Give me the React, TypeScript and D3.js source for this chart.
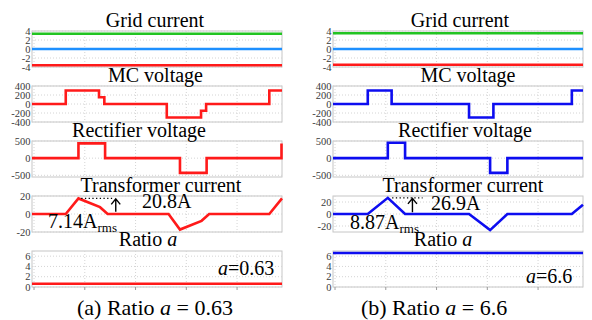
import * as d3 from 'd3';

type Pt = [number, number];

// time axis (arbitrary units, one period = 80)
const tDomain: [number, number] = [-0.8, 97.7];
const tTicks = [0, 20, 40, 60, 80];

const titles = ['Grid current', 'MC voltage', 'Rectifier voltage', 'Transformer current'];

const gridTicks = [4, 2, 0, -2, -4];
const mcTicks = [400, 200, 0, -200, -400];
const rectTicks = [500, 0, -500];
const trTicks = [20, 0, -20];
const ratioTicks = [6, 4, 2, 0];

const gridColors = ['#22c422', '#1e90ff', '#ff1a1a'];

// (a) ratio a = 0.63
const gridA = [3.4, 0, -3.6];
const mcA: Pt[] = [[-0.8, 0], [12.5, 0], [12.5, 300], [25.6, 300], [25.6, 150], [27.7, 150], [27.7, 0],
  [52.3, 0], [52.3, -300], [65.8, -300], [65.8, -150], [67.8, -150], [67.8, 0], [92.7, 0], [92.7, 300], [97.7, 300]];
const rectA: Pt[] = [[-0.8, 0], [17.5, 0], [17.5, 430], [28, 430], [28, 0], [57.5, 0], [57.5, -430],
  [68, -430], [68, 0], [97.5, 0], [97.5, 430]];
const trA: Pt[] = [[-0.8, 0], [12.5, 0], [17.5, 17.3], [26, 7.6], [29, 0], [53, 0], [57.5, -17.3],
  [66, -7.6], [69, 0], [92.7, 0], [97.7, 17.3]];
const ratioA = 0.63;

// (b) ratio a = 6.6
const gridB = [3.5, 0, -3.5];
const mcB: Pt[] = [[-0.8, 0], [12.9, 0], [12.9, 300], [22.3, 300], [22.3, 0], [52.8, 0], [52.8, -300],
  [62.4, -300], [62.4, 0], [93.3, 0], [93.3, 300], [97.7, 300]];
const rectB: Pt[] = [[-0.8, 0], [20.8, 0], [20.8, 450], [27.6, 450], [27.6, 0], [61.1, 0], [61.1, -430],
  [67.9, -430], [67.9, 0], [97.7, 0]];
const trB: Pt[] = [[-0.8, 0], [12.9, 0], [20.8, 26.9], [27.6, 0], [52.8, 0], [61.1, -26.9], [67.9, 0],
  [93.3, 0], [97.7, 15.5]];
const ratioB = 6.6;

const serif = '"Liberation Serif", "Times New Roman", serif';
const rowTop = [31, 86, 141, 196, 251];
const rowH = 36;

interface Side {
  x0: number; x1: number; color: string;
  grid: number[]; mc: Pt[]; rect: Pt[]; tr: Pt[]; trDomain: [number, number]; ratio: number;
  ann: { peakT: number; peakV: number; arrowT: number; baseV: number; dotEndT: number; peak: string; rms: string; ratio: string; caption: string };
  lay: { titleX: number[]; peakX: number; peakY: number; rmsX: number; rmsY: number; ratioX: number; ratioY: number; capX: number };
}

const sides: Side[] = [
  {
    x0: 32, x1: 282, color: '#ff1a1a', grid: gridA, mc: mcA, rect: rectA, tr: trA, trDomain: [-20, 20], ratio: ratioA,
    ann: { peakT: 18.6, peakV: 17.3, arrowT: 32.2, baseV: 2.5, dotEndT: 31.2, peak: '20.8A', rms: '7.14A', ratio: '0.63', caption: '(a) Ratio ' },
    lay: { titleX: [155, 155.5, 139, 161, 148], peakX: 142, peakY: 208, rmsX: 48, rmsY: 228, ratioX: 218, ratioY: 275, capX: 155 },
  },
  {
    x0: 333, x1: 583, color: '#0d0df0', grid: gridB, mc: mcB, rect: rectB, tr: trB, trDomain: [-30, 30], ratio: ratioB,
    ann: { peakT: 22.5, peakV: 26.9, arrowT: 30.5, baseV: 3, dotEndT: 34.5, peak: '26.9A', rms: '8.87A', ratio: '6.6', caption: '(b) Ratio ' },
    lay: { titleX: [460, 468, 465, 463, 443], peakX: 431, peakY: 210, rmsX: 350, rmsY: 229, ratioX: 526, ratioY: 283, capX: 434 },
  },
];

const ratioVal = (s: Side) => (s === sides[0] ? '0.63' : '6.6');

function Frame({ x, y, ticks, x0, x1, top }: { x: d3.ScaleLinear<number, number>; y: d3.ScaleLinear<number, number>; ticks: number[]; x0: number; x1: number; top: number }) {
  return (
    <g>
      <rect x={x0} y={top} width={x1 - x0} height={rowH} fill="#fff" stroke="#c6c6c6" strokeWidth={1} />
      {tTicks.map(t => (
        <line key={'v' + t} x1={x(t)} x2={x(t)} y1={top} y2={top + rowH} stroke="#d4d4d4" strokeDasharray="1,2" />
      ))}
      {ticks.map(v => (
        <line key={'h' + v} x1={x0} x2={x1} y1={y(v)} y2={y(v)} stroke="#d4d4d4" strokeDasharray="1,2" />
      ))}
      {ticks.map(v => (
        <text key={'l' + v} x={x0 - 1.5} y={y(v)} textAnchor="end" dominantBaseline="central"
          fontFamily={serif} fontSize={10.5} fill="#3a3a3a">{v}</text>
      ))}
    </g>
  );
}

function Half({ s }: { s: Side }) {
  const x = d3.scaleLinear().domain(tDomain).range([s.x0, s.x1]);
  const ys = [
    d3.scaleLinear().domain([-4, 4]).range([rowTop[0] + rowH, rowTop[0]]),
    d3.scaleLinear().domain([-400, 400]).range([rowTop[1] + rowH, rowTop[1]]),
    d3.scaleLinear().domain([-550, 500]).range([rowTop[2] + rowH, rowTop[2]]),
    d3.scaleLinear().domain(s.trDomain).range([rowTop[3] + rowH, rowTop[3]]),
    d3.scaleLinear().domain([0, 7]).range([rowTop[4] + rowH, rowTop[4]]),
  ];
  const tickSets = [gridTicks, mcTicks, rectTicks, trTicks, ratioTicks];
  const mk = (y: d3.ScaleLinear<number, number>) => d3.line<Pt>().x(d => x(d[0])).y(d => y(d[1]));
  const sw = 2.6;
  const a = s.ann;
  const ax = x(a.arrowT);
  const ay0 = ys[3](a.baseV);
  const ay1 = ys[3](a.peakV);
  const bottom = rowTop[4] + rowH;

  return (
    <g>
      {tickSets.map((tk, i) => (
        <Frame key={i} x={x} y={ys[i]} ticks={tk} x0={s.x0} x1={s.x1} top={rowTop[i]} />
      ))}
      {tTicks.map(t => (
        <line key={'bt' + t} x1={x(t)} x2={x(t)} y1={bottom} y2={bottom + 3} stroke="#9a9a9a" />
      ))}

      {titles.map((t, i) => (
        <text key={t} x={s.lay.titleX[i]} y={rowTop[i] - 4.5} textAnchor="middle" fontFamily={serif} fontSize={20}>{t}</text>
      ))}
      <text x={s.lay.titleX[4]} y={rowTop[4] - 5.5} textAnchor="middle" fontFamily={serif} fontSize={20}>
        Ratio <tspan fontStyle="italic">a</tspan>
      </text>

      {s.grid.map((v, i) => (
        <line key={'g' + i} x1={s.x0} x2={s.x1} y1={ys[0](v)} y2={ys[0](v)} stroke={gridColors[i]} strokeWidth={sw} />
      ))}
      <path d={mk(ys[1])(s.mc) ?? ''} fill="none" stroke={s.color} strokeWidth={sw} />
      <path d={mk(ys[2])(s.rect) ?? ''} fill="none" stroke={s.color} strokeWidth={sw} />
      <path d={mk(ys[3])(s.tr) ?? ''} fill="none" stroke={s.color} strokeWidth={sw} strokeLinejoin="miter" />
      <line x1={s.x0} x2={s.x1} y1={ys[4](s.ratio)} y2={ys[4](s.ratio)} stroke={s.color} strokeWidth={sw} />

      {/* peak annotation */}
      <line x1={x(a.peakT)} x2={x(a.dotEndT)} y1={ay1} y2={ay1} stroke="#000" strokeWidth={1.3} strokeDasharray="1.3,2.4" />
      <path d={`M${ax},${ay0}V${ay1 + 0.5}M${ax - 4.5},${ay1 + 6}L${ax},${ay1 + 0.5}L${ax + 4.5},${ay1 + 6}`}
        fill="none" stroke="#000" strokeWidth={1.4} />
      <text x={s.lay.peakX} y={s.lay.peakY} fontFamily={serif} fontSize={20}>{a.peak}</text>
      <text x={s.lay.rmsX} y={s.lay.rmsY} fontFamily={serif} fontSize={20}>
        {a.rms}<tspan fontSize={13} dy={4}>rms</tspan>
      </text>
      <text x={s.lay.ratioX} y={s.lay.ratioY} fontFamily={serif} fontSize={20}>
        <tspan fontStyle="italic">a</tspan>={a.ratio}
      </text>

      <text x={s.lay.capX} y={315} textAnchor="middle" fontFamily={serif} fontSize={22}>
        {a.caption}<tspan fontStyle="italic">a</tspan> = {ratioVal(s)}
      </text>
    </g>
  );
}

export default function App() {
  return (
    <svg width={592} height={320} viewBox="0 0 592 320"
      style={{ position: 'absolute', left: 0, top: 0, background: '#fff' }}>
      {sides.map((s, i) => <Half key={i} s={s} />)}
    </svg>
  );
}
